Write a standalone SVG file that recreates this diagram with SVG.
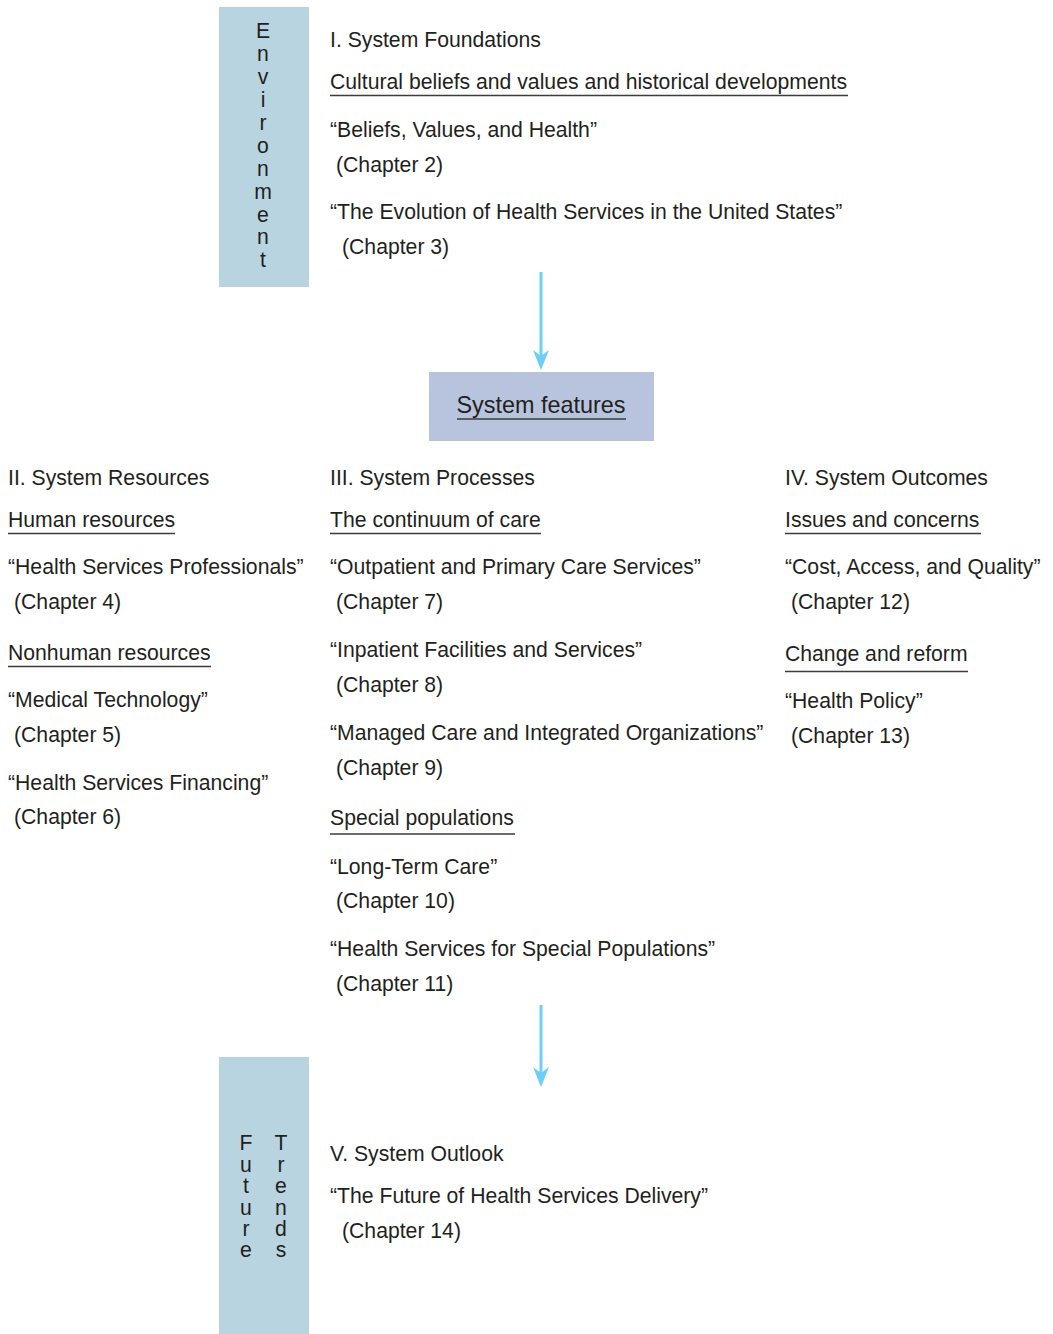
<svg xmlns="http://www.w3.org/2000/svg" width="1053" height="1334" viewBox="0 0 1053 1334">
  <defs>
    <style>
      text { font-family: "Liberation Sans", Arial, sans-serif; font-size: 21.2px; fill: #231f20; }
      .mid { text-anchor: middle; }
      .big { font-size: 23.4px; }
      .ul { stroke: #3d3b3c; stroke-width: 1.5; }
      .band { fill: #b9d4e1; }
      .conn { stroke: #6dcff6; stroke-width: 3; fill: none; }
      .head { fill: #6dcff6; }
    </style>
  </defs>

  <!-- environment band -->
  <g id="environment">
    <rect class="band" x="219" y="7" width="90" height="280"/>
    <text x="263" y="38" class="mid">E</text>
    <text x="263" y="61" class="mid">n</text>
    <text x="263" y="84" class="mid">v</text>
    <text x="263" y="107" class="mid">i</text>
    <text x="263" y="130" class="mid">r</text>
    <text x="263" y="153" class="mid">o</text>
    <text x="263" y="176" class="mid">n</text>
    <text x="263" y="199" class="mid">m</text>
    <text x="263" y="222" class="mid">e</text>
    <text x="263" y="244" class="mid">n</text>
    <text x="263" y="267" class="mid">t</text>
  </g>

  <!-- I. foundations -->
  <g id="foundations">
    <text x="330" y="47">I. System Foundations</text>
    <text x="330" y="89">Cultural beliefs and values and historical developments</text>
    <line class="ul" x1="330" y1="95.5" x2="848" y2="95.5"/>
    <text x="330" y="137">“Beliefs, Values, and Health”</text>
    <text x="336" y="172">(Chapter 2)</text>
    <text x="330" y="219">“The Evolution of Health Services in the United States”</text>
    <text x="342" y="254">(Chapter 3)</text>
  </g>

  <!-- system features -->
  <g id="system-features">
    <rect x="429" y="372" width="225" height="69" fill="#b8c3de"/>
    <text x="541" y="413" class="mid big">System features</text>
    <line class="ul" x1="457" y1="419" x2="626" y2="419"/>
  </g>

  <!-- II. resources -->
  <g id="resources">
    <text x="8" y="485">II. System Resources</text>
    <text x="8" y="527">Human resources</text>
    <line class="ul" x1="8" y1="533.5" x2="175" y2="533.5"/>
    <text x="8" y="574">“Health Services Professionals”</text>
    <text x="14" y="609">(Chapter 4)</text>
    <text x="8" y="660">Nonhuman resources</text>
    <line class="ul" x1="8" y1="666.5" x2="211" y2="666.5"/>
    <text x="8" y="707">“Medical Technology”</text>
    <text x="14" y="742">(Chapter 5)</text>
    <text x="8" y="790">“Health Services Financing”</text>
    <text x="14" y="824">(Chapter 6)</text>
  </g>

  <!-- III. processes -->
  <g id="processes">
    <text x="330" y="485">III. System Processes</text>
    <text x="330" y="527">The continuum of care</text>
    <line class="ul" x1="330" y1="533.5" x2="541" y2="533.5"/>
    <text x="330" y="574">“Outpatient and Primary Care Services”</text>
    <text x="336" y="609">(Chapter 7)</text>
    <text x="330" y="657">“Inpatient Facilities and Services”</text>
    <text x="336" y="692">(Chapter 8)</text>
    <text x="330" y="740">“Managed Care and Integrated Organizations”</text>
    <text x="336" y="775">(Chapter 9)</text>
    <text x="330" y="825">Special populations</text>
    <line class="ul" x1="330" y1="834" x2="515" y2="834"/>
    <text x="330" y="874">“Long-Term Care”</text>
    <text x="336" y="908">(Chapter 10)</text>
    <text x="330" y="956">“Health Services for Special Populations”</text>
    <text x="336" y="991">(Chapter 11)</text>
  </g>

  <!-- IV. outcomes -->
  <g id="outcomes">
    <text x="785" y="485">IV. System Outcomes</text>
    <text x="785" y="527">Issues and concerns</text>
    <line class="ul" x1="785" y1="533.5" x2="981" y2="533.5"/>
    <text x="785" y="574">“Cost, Access, and Quality”</text>
    <text x="791" y="609">(Chapter 12)</text>
    <text x="785" y="661">Change and reform</text>
    <line class="ul" x1="785" y1="671.5" x2="968" y2="671.5"/>
    <text x="785" y="708">“Health Policy”</text>
    <text x="791" y="743">(Chapter 13)</text>
  </g>

  <!-- future trends band -->
  <g id="future-trends">
    <rect class="band" x="219" y="1057" width="90" height="277"/>
    <text x="246" y="1150" class="mid">F</text>
    <text x="246" y="1172" class="mid">u</text>
    <text x="246" y="1193" class="mid">t</text>
    <text x="246" y="1215" class="mid">u</text>
    <text x="246" y="1236" class="mid">r</text>
    <text x="246" y="1257" class="mid">e</text>
    <text x="281" y="1150" class="mid">T</text>
    <text x="281" y="1172" class="mid">r</text>
    <text x="281" y="1193" class="mid">e</text>
    <text x="281" y="1215" class="mid">n</text>
    <text x="281" y="1236" class="mid">d</text>
    <text x="281" y="1257" class="mid">s</text>
  </g>

  <!-- V. outlook -->
  <g id="outlook">
    <text x="330" y="1161">V. System Outlook</text>
    <text x="330" y="1203">“The Future of Health Services Delivery”</text>
    <text x="342" y="1238">(Chapter 14)</text>
  </g>

  <!-- connectors -->
  <g id="connectors">
    <line class="conn" x1="541" y1="272" x2="541" y2="358"/>
    <path class="head" d="M533,350 L541,356 L549,350 L541,370 Z"/>
    <line class="conn" x1="541" y1="1005" x2="541" y2="1075"/>
    <path class="head" d="M533,1067 L541,1073 L549,1067 L541,1087 Z"/>
  </g>
</svg>
